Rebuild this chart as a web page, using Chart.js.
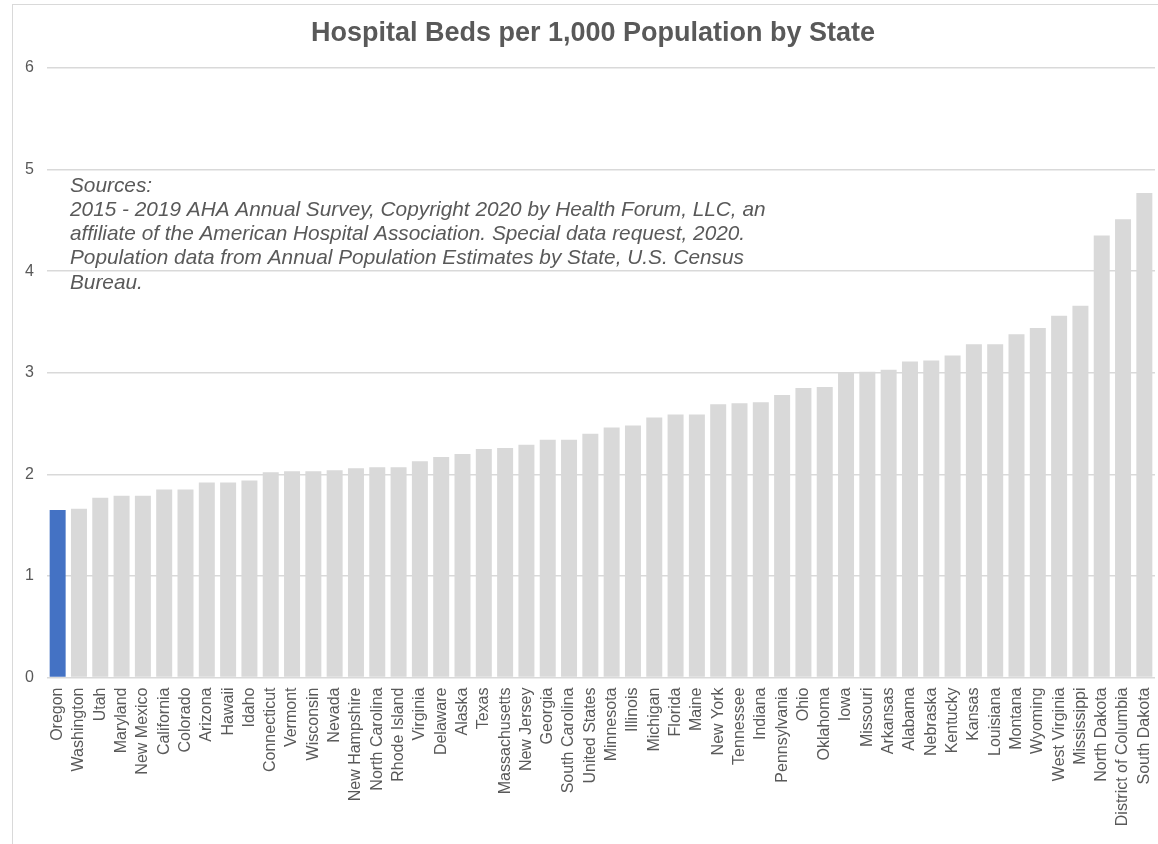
<!DOCTYPE html>
<html>
<head>
<meta charset="utf-8">
<script src="https://cdn.jsdelivr.net/npm/chart.js@4.4.1/dist/chart.umd.min.js"></script>
<style>
  html, body { margin: 0; padding: 0; background: #ffffff; overflow: hidden; }
  #wrap { position: relative; width: 1158px; height: 844px; }
  #frame { position: absolute; left: 12px; top: 4px; width: 1160px; height: 860px;
           border-left: 1.5px solid #d9d9d9; border-top: 1.5px solid #d9d9d9; box-sizing: border-box; }
  canvas { position: absolute; left: 0; top: 0; }
</style>
</head>
<body>
<div id="wrap">
  <div id="frame"></div>
  <canvas id="c" width="1158" height="844"></canvas>
</div>
<script>
const chartTitle = 'Hospital Beds per 1,000 Population by State';

const states = ['Oregon', 'Washington', 'Utah', 'Maryland', 'New Mexico', 'California', 'Colorado',
  'Arizona', 'Hawaii', 'Idaho', 'Connecticut', 'Vermont', 'Wisconsin', 'Nevada', 'New Hampshire',
  'North Carolina', 'Rhode Island', 'Virginia', 'Delaware', 'Alaska', 'Texas', 'Massachusetts',
  'New Jersey', 'Georgia', 'South Carolina', 'United States', 'Minnesota', 'Illinois', 'Michigan',
  'Florida', 'Maine', 'New York', 'Tennessee', 'Indiana', 'Pennsylvania', 'Ohio', 'Oklahoma', 'Iowa',
  'Missouri', 'Arkansas', 'Alabama', 'Nebraska', 'Kentucky', 'Kansas', 'Louisiana', 'Montana',
  'Wyoming', 'West Virginia', 'Mississippi', 'North Dakota', 'District of Columbia', 'South Dakota'];

const bedsPer1000 = [1.65, 1.66, 1.77, 1.79, 1.79, 1.85, 1.85, 1.92, 1.92, 1.94, 2.02, 2.03, 2.03,
  2.04, 2.06, 2.07, 2.07, 2.13, 2.17, 2.20, 2.25, 2.26, 2.29, 2.34, 2.34, 2.40, 2.46, 2.48, 2.56,
  2.59, 2.59, 2.69, 2.70, 2.71, 2.78, 2.85, 2.86, 3.00, 3.01, 3.03, 3.11, 3.12, 3.17, 3.28, 3.28,
  3.38, 3.44, 3.56, 3.66, 4.35, 4.51, 4.77];

const highlightState = 'Oregon';

const yTicks = [0, 1, 2, 3, 4, 5, 6];

const sourceLines = [
  'Sources:',
  '2015 - 2019 AHA Annual Survey, Copyright 2020 by Health Forum, LLC, an',
  'affiliate of the American Hospital Association. Special data request, 2020.',
  'Population data from Annual Population Estimates by State, U.S. Census',
  'Bureau.'
];

const TEXT = '#595959';
const GRID = '#d9d9d9';
const BAR = '#d9d9d9';
const HILITE = '#4472c4';
const FONT = '"Liberation Sans", Arial, sans-serif';

const notesPlugin = {
  id: 'notes',
  afterDraw(chart) {
    const ctx = chart.ctx;
    const a = chart.chartArea;
    ctx.save();
    // title
    ctx.font = 'bold 27px ' + FONT;
    ctx.fillStyle = TEXT;
    ctx.textBaseline = 'middle';
    ctx.textAlign = 'center';
    ctx.fillText(chartTitle, (a.left + a.right) / 2 - 8, 34);
    // sources note
    ctx.font = 'italic 20.8px ' + FONT;
    ctx.textAlign = 'left';
    sourceLines.forEach((t, i) => {
      ctx.fillText(t, a.left + 23, a.top + 118 + i * 24.2);
    });
    ctx.restore();
  }
};

new Chart(document.getElementById('c'), {
  type: 'bar',
  data: {
    labels: states,
    datasets: [{
      data: bedsPer1000,
      backgroundColor: states.map(s => s === highlightState ? HILITE : BAR),
      borderWidth: 0,
      barPercentage: 0.75,
      categoryPercentage: 1.0
    }]
  },
  options: {
    responsive: false,
    animation: false,
    devicePixelRatio: 1,
    layout: { padding: { left: 0, right: 3, top: 68, bottom: 0 } },
    plugins: {
      legend: { display: false },
      tooltip: { enabled: false },
      title: { display: false }
    },
    scales: {
      x: {
        grid: { display: false, drawTicks: false },
        border: { display: false },
        ticks: {
          color: TEXT,
          font: { family: FONT, size: 16 },
          minRotation: 90,
          maxRotation: 90,
          autoSkip: false,
          padding: 10
        },
        afterFit(scale) {
          scale.height = 166.5;
          scale.paddingLeft = 0;
          scale.paddingRight = 0;
        }
      },
      y: {
        min: 0,
        max: 6,
        afterBuildTicks(scale) { scale.ticks = yTicks.map(v => ({ value: v })); },
        grid: { color: GRID, lineWidth: 1.5, drawTicks: false },
        border: { display: false },
        ticks: {
          color: TEXT,
          font: { family: FONT, size: 16 },
          padding: 13
        },
        afterFit(scale) {
          scale.width = 47;
          scale.paddingTop = 0;
          scale.paddingBottom = 0;
        }
      }
    }
  },
  plugins: [notesPlugin]
});
</script>
</body>
</html>
